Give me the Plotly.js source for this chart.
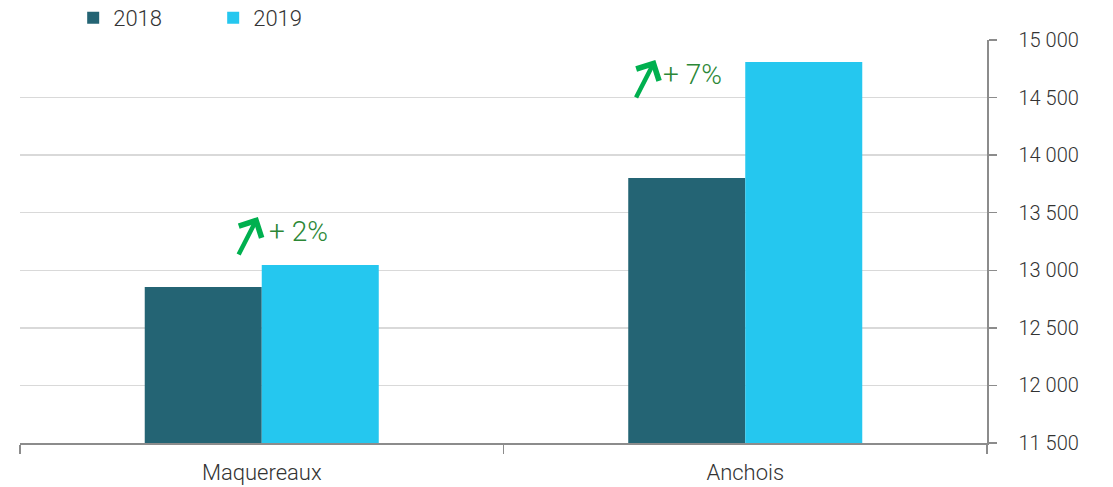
<!DOCTYPE html>
<html>
<head>
<meta charset="utf-8">
<script src="https://cdn.plot.ly/plotly-3.0.1.min.js"></script>
<style>html,body{margin:0;padding:0;background:#fff;}#chart{width:1113px;height:487px;}</style>
</head>
<body>
<div id="chart"></div>
<script>
const categories = ["Maquereaux", "Anchois"];
const series2018 = [12855, 13802];
const series2019 = [13046, 14810];
const seriesNames = ["2018", "2019"];
const growthLabels = ["+ 2%", "+ 7%"];
const yTickValues = [11500, 12000, 12500, 13000, 13500, 14000, 14500, 15000];
const yTickLabels = ["11 500", "12 000", "12 500", "13 000", "13 500", "14 000", "14 500", "15 000"];

const fontFam = "Roboto, 'Open Sans', sans-serif";

const traces = [
  {type: "bar", name: seriesNames[0], x: categories, y: series2018, marker: {color: "#246474"}},
  {type: "bar", name: seriesNames[1], x: categories, y: series2019, marker: {color: "#25c7ef"}}
];

const annotations = [];
const arrowHeads = [[-0.008, 13463], [0.814, 14827]];
const textPos = [[0.077, 13333], [0.89, 14697]];
for (let i = 0; i < categories.length; i++) {
  annotations.push({
    xref: "x", yref: "y", x: arrowHeads[i][0], y: arrowHeads[i][1],
    axref: "pixel", ayref: "pixel", ax: -20, ay: 39,
    text: "", showarrow: true, arrowhead: 4, arrowsize: 1.1, arrowwidth: 4.5, arrowcolor: "#00b04f"
  });
  annotations.push({
    xref: "x", yref: "y", x: textPos[i][0], y: textPos[i][1],
    text: growthLabels[i], showarrow: false,
    font: {family: fontFam, size: 28, color: "#2c8736", weight: 300}
  });
}

const layout = {
  width: 1113, height: 487,
  margin: {l: 20, r: 126, t: 40, b: 44, autoexpand: false},
  paper_bgcolor: "#fff", plot_bgcolor: "#fff",
  barmode: "group", bargap: 0.516, bargroupgap: 0,
  font: {family: fontFam, size: 19, color: "#333", weight: 300},
  showlegend: true,
  legend: {orientation: "h", x: 0.055, y: 1.055, xanchor: "left", yanchor: "middle",
           font: {family: fontFam, size: 22, color: "#333", weight: 300}, entrywidth: 95, entrywidthmode: "pixels"},
  xaxis: {type: "category", showline: true, linecolor: "#8c8c8c", linewidth: 1.5,
          ticks: "outside", tickson: "boundaries", ticklen: 9, tickcolor: "#8c8c8c", tickwidth: 1.5,
          showgrid: false, tickfont: {size: 22, color: "#333"}, ticklabelstandoff: 9},
  yaxis: {side: "right", range: [11500, 15000], tickvals: yTickValues, ticktext: yTickLabels,
          showline: true, linecolor: "#8c8c8c", linewidth: 1.5, ticks: "outside", ticklen: 8,
          tickcolor: "#8c8c8c", tickwidth: 1.5, showgrid: true, gridcolor: "#d9d9d9", gridwidth: 1.5,
          zeroline: false, tickfont: {size: 20, color: "#333"}, ticklabelstandoff: 18},
  annotations: annotations
};

Plotly.newPlot("chart", traces, layout, {displayModeBar: false, staticPlot: true});
</script>
</body>
</html>
